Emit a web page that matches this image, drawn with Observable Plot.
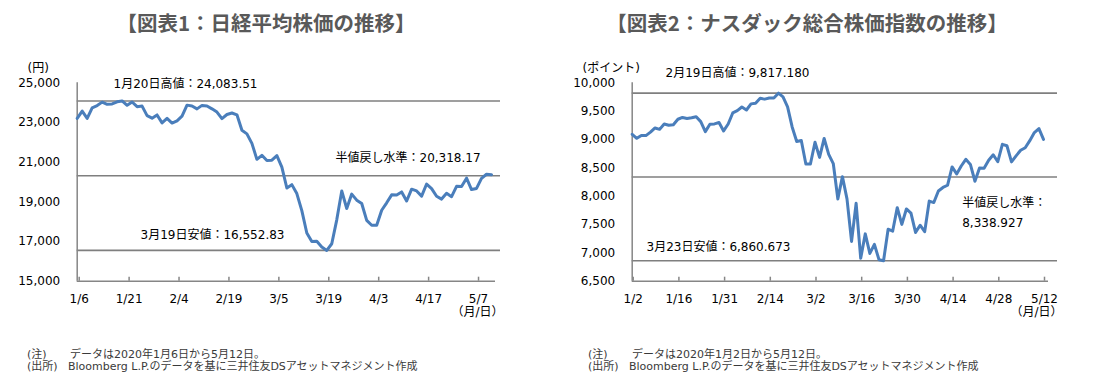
<!DOCTYPE html>
<html>
<head>
<meta charset="utf-8">
<script src="https://cdn.jsdelivr.net/npm/d3@7"></script>
<script src="https://cdn.jsdelivr.net/npm/@observablehq/plot@0.6"></script>
<style>
  body { margin: 0; background: #fff; }
  #wrap { position: relative; width: 1099px; height: 383px; overflow: hidden; background: #fff;
          font-family: "DejaVu Sans", "Noto Sans CJK JP", sans-serif; }
  .title { position: absolute; top: 8px; font-family: "Noto Sans CJK JP", sans-serif; font-weight: bold;
           font-size: 20.5px; line-height: 28px; color: #595959; white-space: nowrap; transform: translateX(-50%); }
  .chart { position: absolute; top: 40px; }
  .note { position: absolute; font-size: 11px; line-height: 12px; color: #3a3a3a; white-space: nowrap; }
</style>
</head>
<body>
<div id="wrap">
  <div class="title" style="left:266px">【図表1：日経平均株価の推移】</div>
  <div class="title" style="left:807px">【図表2：ナスダック総合株価指数の推移】</div>
  <div class="chart" id="c1" style="left:0px"></div>
  <div class="chart" id="c2" style="left:550px"></div>

  <div class="note" style="left:27px;top:349px">(注)</div>
  <div class="note" style="left:70px;top:349px">データは2020年1月6日から5月12日。</div>
  <div class="note" style="left:27px;top:361px">(出所)</div>
  <div class="note" style="left:68px;top:361px">Bloomberg L.P.のデータを基に三井住友DSアセットマネジメント作成</div>

  <div class="note" style="left:588px;top:349px">(注)</div>
  <div class="note" style="left:632px;top:349px">データは2020年1月2日から5月12日。</div>
  <div class="note" style="left:588px;top:361px">(出所)</div>
  <div class="note" style="left:629px;top:361px">Bloomberg L.P.のデータを基に三井住友DSアセットマネジメント作成</div>
</div>
<script>
// ---------- Data: Nikkei 225 ----------
const nikkeiDates = [
  "1/6","1/7","1/8","1/9","1/10","1/14","1/15","1/16","1/17","1/20","1/21","1/22","1/23","1/24","1/27","1/28","1/29","1/30","1/31",
  "2/3","2/4","2/5","2/6","2/7","2/10","2/12","2/13","2/14","2/17","2/18","2/19","2/20","2/21","2/25","2/26","2/27","2/28",
  "3/2","3/3","3/4","3/5","3/6","3/9","3/10","3/11","3/12","3/13","3/16","3/17","3/18","3/19","3/23","3/24","3/25","3/26","3/27","3/30","3/31",
  "4/1","4/2","4/3","4/6","4/7","4/8","4/9","4/10","4/13","4/14","4/15","4/16","4/17","4/20","4/21","4/22","4/23","4/24","4/27","4/28","4/30",
  "5/1","5/7","5/8","5/11","5/12"
];
const nikkeiValues = [
  23204.86,23575.72,23204.76,23739.87,23850.57,24025.17,23916.58,23933.13,24041.26,24083.51,23864.56,24031.35,23795.44,23827.18,23343.51,23215.71,23379.40,22977.75,23205.18,
  22971.94,23084.59,23319.56,23873.59,23827.98,23685.98,23861.21,23827.73,23687.59,23523.24,23193.80,23400.70,23479.15,23386.74,22605.41,22426.19,21948.23,21142.96,
  21344.08,21082.73,21100.06,21329.12,20749.75,19698.76,19867.12,19416.06,18559.63,17431.05,17002.04,17011.53,16726.55,16552.83,16887.78,18092.35,19546.63,18664.60,19389.43,19084.97,18917.01,
  18065.41,17818.72,17820.19,18576.30,18950.18,19353.24,19345.77,19498.50,19043.40,19638.81,19550.09,19290.20,19897.26,19669.12,19280.78,19137.95,19429.44,19262.00,19783.22,19771.19,20193.69,
  19619.35,19674.77,20179.09,20390.66,20366.48
];
const nikkeiTickLabels = ["1/6","1/21","2/4","2/19","3/5","3/19","4/3","4/17","5/7"];
const nikkeiYTicks = [15000, 17000, 19000, 21000, 23000, 25000];
const nikkeiRefs = [24083.51, 20318.17, 16552.83];
const nikkeiRefLabels = ["1月20日高値：24,083.51", "半値戻し水準：20,318.17", "3月19日安値：16,552.83"];

// ---------- Data: NASDAQ Composite ----------
const nasdaqDates = [
  "1/2","1/3","1/6","1/7","1/8","1/9","1/10","1/13","1/14","1/15","1/16","1/17","1/21","1/22","1/23","1/24","1/27","1/28","1/29","1/30","1/31",
  "2/3","2/4","2/5","2/6","2/7","2/10","2/11","2/12","2/13","2/14","2/18","2/19","2/20","2/21","2/24","2/25","2/26","2/27","2/28",
  "3/2","3/3","3/4","3/5","3/6","3/9","3/10","3/11","3/12","3/13","3/16","3/17","3/18","3/19","3/20","3/23","3/24","3/25","3/26","3/27","3/30","3/31",
  "4/1","4/2","4/3","4/6","4/7","4/8","4/9","4/13","4/14","4/15","4/16","4/17","4/20","4/21","4/22","4/23","4/24","4/27","4/28","4/29","4/30",
  "5/1","5/4","5/5","5/6","5/7","5/8","5/11","5/12"
];
const nasdaqValues = [
  9092.19,9020.77,9071.47,9068.58,9129.24,9203.43,9178.86,9273.93,9251.33,9258.70,9357.13,9388.94,9370.81,9383.77,9402.48,9314.91,9139.31,9269.68,9275.16,9298.93,9150.94,
  9273.40,9467.97,9508.68,9572.15,9520.51,9628.39,9638.94,9725.96,9711.97,9731.18,9732.74,9817.18,9750.97,9576.59,9221.28,8965.61,8980.78,8566.48,8567.37,
  8952.17,8684.09,9018.09,8738.60,8575.62,7950.68,8344.25,7952.05,7201.80,7874.88,6904.59,7334.78,6989.84,7150.58,6879.52,6860.673,7417.86,7384.30,7797.54,7502.38,7774.15,7700.10,
  7360.58,7487.31,7373.08,7913.24,7887.26,8090.90,8153.58,8192.42,8515.74,8393.18,8532.36,8650.14,8560.73,8263.23,8495.38,8494.75,8634.52,8730.16,8607.73,8914.71,8889.55,
  8604.95,8710.71,8809.12,8854.39,8979.66,9121.32,9192.34,9002.55
];
const nasdaqTickLabels = ["1/2","1/16","1/31","2/14","3/2","3/16","3/30","4/14","4/28","5/12"];
const nasdaqYTicks = [6500, 7000, 7500, 8000, 8500, 9000, 9500, 10000];
const nasdaqRefs = [9817.180, 8338.927, 6860.673];
const nasdaqRefLabels = ["2月19日高値：9,817.180", "半値戻し水準：\n8,338.927", "3月23日安値：6,860.673"];

const FONT = "'DejaVu Sans', 'Noto Sans CJK JP', sans-serif";
const LINE_COLOR = "#4a7ebb";
const REF_COLOR = "#7f7f7f";
const AXIS_COLOR = "#868686";

function makeChart(o) {
  const data = o.values.map((v, i) => ({i, v}));
  const tickIdx = o.tickLabels.map(t => o.dates.indexOf(t));
  const yMin = o.yTicks[0], yMax = o.yTicks[o.yTicks.length - 1];
  return Plot.plot({
    width: 549, height: 290,
    marginLeft: o.marginLeft, marginRight: o.marginRight, marginTop: 42.3, marginBottom: 49.3,
    x: {domain: [0, o.values.length - 1], insetRight: o.insetRight},
    y: {domain: [yMin, yMax]},
    style: {fontFamily: FONT, fontSize: "12px", color: "#000", background: "transparent", overflow: "visible"},
    marks: [
      Plot.ruleY(o.refs, {stroke: REF_COLOR, strokeWidth: 1.6}),
      Plot.ruleY([yMin], {stroke: AXIS_COLOR, strokeWidth: 1.5, insetRight: o.axisInsetRight}),
      Plot.ruleX([0], {stroke: AXIS_COLOR, strokeWidth: 1.5}),
      Plot.axisY({ticks: o.yTicks, tickSize: 0, tickPadding: 17, tickFormat: d3.format(","), label: null}),
      Plot.axisX({ticks: tickIdx, tickSize: -4, tickPadding: 17, tickFormat: i => o.dates[i], label: null,
                  stroke: AXIS_COLOR, fill: "#000", strokeWidth: 1.5, dx: o.tickDx}),
      Plot.line(data, {x: "i", y: "v", stroke: LINE_COLOR, strokeWidth: 3, strokeLinejoin: "round"}),
      ...o.refLabels.map((t, k) => Plot.text([t], {
        y: () => o.refs[k], frameAnchor: "left", textAnchor: "start",
        dx: o.labelDx[k], dy: o.labelDy[k], lineHeight: 1.667, fill: "#000"
      })),
      Plot.text([o.unit], {frameAnchor: "top-left", textAnchor: "start", dx: -49.7, dy: -19.5, fill: "#000"}),
      Plot.text(["（月/日）"], {frameAnchor: "bottom-right", textAnchor: "end", dx: o.mdDx, dy: 34.3, fill: "#000"})
    ]
  });
}

document.getElementById("c1").append(makeChart({
  dates: nikkeiDates, values: nikkeiValues, tickLabels: nikkeiTickLabels, yTicks: nikkeiYTicks,
  refs: nikkeiRefs, refLabels: nikkeiRefLabels, unit: "(円)",
  marginLeft: 76.7, marginRight: 49, insetRight: 9, axisInsetRight: 5, tickDx: 2,
  labelDx: [36.3, 258.3, 63.3], labelDy: [-19, -20, -17.5], mdDx: 3
}));

document.getElementById("c2").append(makeChart({
  dates: nasdaqDates, values: nasdaqValues, tickLabels: nasdaqTickLabels, yTicks: nasdaqYTicks,
  refs: nasdaqRefs, refLabels: nasdaqRefLabels, unit: "(ポイント)",
  marginLeft: 81.7, marginRight: 42, insetRight: 14, axisInsetRight: 9, tickDx: 1,
  labelDx: [33.3, 330, 14.3], labelDy: [-22.7, 33.5, -16.3], mdDx: 5
}));
</script>
</body>
</html>
